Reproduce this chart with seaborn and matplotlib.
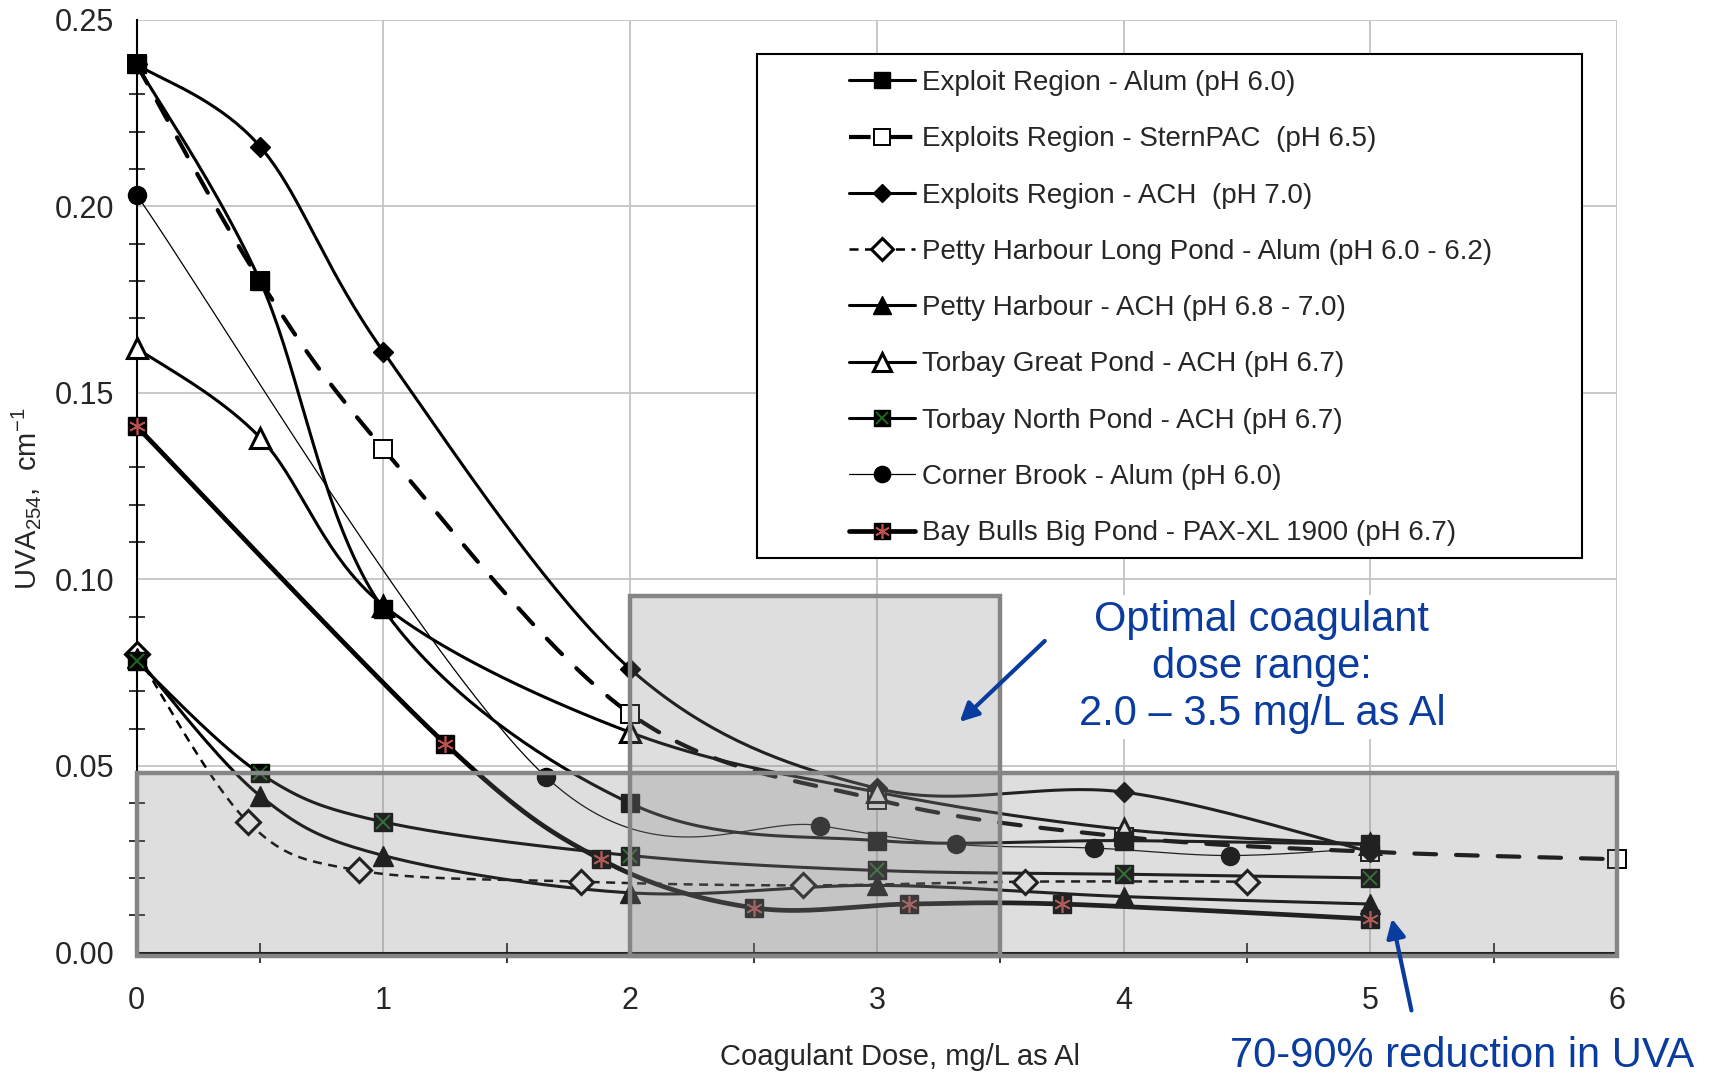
import matplotlib
matplotlib.use("Agg")
import matplotlib.pyplot as plt
from matplotlib.lines import Line2D
from matplotlib.patches import Rectangle
import numpy as np
import pandas as pd
import seaborn as sns

# values (dose in mg/L as Al, UVA254 in 1/cm)
series_names = [
    "Exploit Region - Alum (pH 6.0)",
    "Exploits Region - SternPAC  (pH 6.5)",
    "Exploits Region - ACH  (pH 7.0)",
    "Petty Harbour Long Pond - Alum (pH 6.0 - 6.2)",
    "Petty Harbour - ACH (pH 6.8 - 7.0)",
    "Torbay Great Pond - ACH (pH 6.7)",
    "Torbay North Pond - ACH (pH 6.7)",
    "Corner Brook - Alum (pH 6.0)",
    "Bay Bulls Big Pond - PAX-XL 1900 (pH 6.7)",
]

exploit_alum_x = [0, 0.5, 1, 2, 3, 4, 5]
exploit_alum_y = [0.238, 0.180, 0.092, 0.040, 0.030, 0.030, 0.029]

exploit_pac_x = [0, 0.5, 1, 2, 3, 4, 5, 6]
exploit_pac_y = [0.238, 0.180, 0.135, 0.064, 0.041, 0.031, 0.027, 0.025]

exploit_ach_x = [0, 0.5, 1, 2, 3, 4, 5]
exploit_ach_y = [0.238, 0.216, 0.161, 0.076, 0.044, 0.043, 0.027]

petty_alum_x = [0, 0.45, 0.9, 1.8, 2.7, 3.6, 4.5]
petty_alum_y = [0.080, 0.035, 0.022, 0.019, 0.018, 0.019, 0.019]

petty_ach_x = [0, 0.5, 1, 2, 3, 4, 5]
petty_ach_y = [0.079, 0.042, 0.026, 0.016, 0.018, 0.015, 0.013]

torbay_great_x = [0, 0.5, 1, 2, 3, 4, 5]
torbay_great_y = [0.162, 0.138, 0.093, 0.059, 0.043, 0.033, 0.029]

torbay_north_x = [0, 0.5, 1, 2, 3, 4, 5]
torbay_north_y = [0.078, 0.048, 0.035, 0.026, 0.022, 0.021, 0.020]

corner_x = [0, 1.66, 2.77, 3.32, 3.88, 4.43, 5]
corner_y = [0.203, 0.047, 0.034, 0.029, 0.028, 0.026, 0.028]

baybulls_x = [0, 1.25, 1.88, 2.5, 3.13, 3.75, 5]
baybulls_y = [0.141, 0.056, 0.025, 0.012, 0.013, 0.013, 0.009]

all_x = [exploit_alum_x, exploit_pac_x, exploit_ach_x, petty_alum_x, petty_ach_x,
         torbay_great_x, torbay_north_x, corner_x, baybulls_x]
all_y = [exploit_alum_y, exploit_pac_y, exploit_ach_y, petty_alum_y, petty_ach_y,
         torbay_great_y, torbay_north_y, corner_y, baybulls_y]

BLUE = "#0a3b9e"
GREEN = "#1e6b1e"
RED = "#c0504d"

# line style per series; marker entries: (marker, size, facecolor, edgecolor, mew)
styles = [
    dict(lw=2.2, ls="-", z=6, marks=[("s", 12.5, "black", "black", 1)]),
    dict(lw=3.0, ls=(0, (5.2, 4.8)), cap="round", z=4,
         marks=[("s", 12.5, "white", "black", 1.4)]),
    dict(lw=2.2, ls="-", z=4, marks=[("D", 10, "black", "black", 1)]),
    dict(lw=1.8, ls=(0, (3.6, 2.6)), z=4, marks=[("D", 12.5, "white", "black", 2.2)]),
    dict(lw=2.2, ls="-", z=4, marks=[("^", 14, "black", "black", 1)]),
    dict(lw=2.2, ls="-", z=4, marks=[("^", 14, "white", "black", 2.2)]),
    dict(lw=2.2, ls="-", z=4, marks=[("s", 12.5, "black", "black", 1), ("x", 10, GREEN, GREEN, 1.4)]),
    dict(lw=0.9, ls="-", z=4, marks=[("o", 13, "black", "black", 1)]),
    dict(lw=3.4, ls="-", z=4, marks=[("s", 12.5, "black", "black", 1), ((6, 2, 0), 12, RED, RED, 1.2)]),
]


def smooth(x, y, n=40):
    """Excel-like smoothed line (Catmull-Rom Bezier)"""
    pts = np.column_stack([x, y]).astype(float)
    p = np.vstack([pts[0], pts, pts[-1]])
    t = np.linspace(0, 1, n)[:, None]
    out = []
    for i in range(1, len(p) - 2):
        p0, p1, p2, p3 = p[i - 1], p[i], p[i + 1], p[i + 2]
        c1 = p1 + (p2 - p0) / 6
        c2 = p2 - (p3 - p1) / 6
        seg = (1 - t) ** 3 * p1 + 3 * (1 - t) ** 2 * t * c1 + 3 * (1 - t) * t ** 2 * c2 + t ** 3 * p2
        out.append(seg if i == 1 else seg[1:])
    return np.vstack(out)


rows = []
for name, xs, ys in zip(series_names, all_x, all_y):
    sm = smooth(xs, ys)
    for k, (a, b) in enumerate(sm):
        rows.append((name, k, a, b))
curves = pd.DataFrame(rows, columns=["series", "k", "dose", "uva"])

sns.set_theme(style="white")
plt.rcParams["font.family"] = ["Liberation Sans", "DejaVu Sans"]
plt.rcParams["mathtext.default"] = "regular"

fig = plt.figure(figsize=(17.15, 10.75), dpi=100)
ax = fig.add_axes([0.0797, 0.1139, 0.8633, 0.8678])

for name, st, xs, ys in zip(series_names, styles, all_x, all_y):
    d = curves[curves["series"] == name]
    sns.lineplot(data=d, x="dose", y="uva", sort=False, estimator=None, ax=ax,
                 color="black", linewidth=st["lw"], zorder=3)
    ln = ax.lines[-1]
    ln.set_linestyle(st["ls"])
    if st.get("cap"):
        ln.set_dash_capstyle("round")
    for m, ms, fc, ec, mew in st["marks"]:
        ax.plot(xs, ys, ls="none", marker=m, markersize=ms, markerfacecolor=fc,
                markeredgecolor=ec, markeredgewidth=mew, zorder=st["z"], clip_on=False)

ax.set_xlim(0, 6)
ax.set_ylim(0, 0.25)
ax.set_xticks(np.arange(0, 7, 1))
ax.set_xticks(np.arange(0, 6.01, 0.5), minor=True)
ax.set_yticks(np.arange(0, 0.251, 0.05))
ax.set_yticks(np.arange(0, 0.251, 0.01), minor=True)
ax.set_yticklabels([f"{v:.2f}" for v in np.arange(0, 0.251, 0.05)])
ax.tick_params(axis="both", which="major", labelsize=22, color="black")
ax.tick_params(axis="x", which="both", direction="inout", length=14, width=1.3, pad=17)
ax.tick_params(axis="y", which="major", direction="out", length=8, width=1.3, pad=8)
ax.tick_params(axis="y", which="minor", direction="inout", length=11, width=1.3, left=True)
ax.tick_params(axis="x", which="minor", bottom=True)
ax.grid(True, which="major", color="#c4c4c4", linewidth=1.3, zorder=0)
ax.set_axisbelow(True)
for s in ["top", "right"]:
    ax.spines[s].set_visible(False)
for s in ["left", "bottom"]:
    ax.spines[s].set_color("black")
    ax.spines[s].set_linewidth(1.5)

ax.set_xlabel("Coagulant Dose, mg/L as Al", fontsize=21)
ax.xaxis.set_label_coords(0.5155, -0.097)
ax.set_ylabel("UVA$_{254}$,  cm$^{-1}$", fontsize=21)
ax.yaxis.set_label_coords(-0.0635, 0.487)

# shaded boxes drawn over the data like in the original
ax.add_patch(Rectangle((0, -0.001), 6, 0.049, facecolor="#808080", alpha=0.26,
                       edgecolor="none", zorder=7, clip_on=False))
ax.add_patch(Rectangle((2, -0.001), 1.5, 0.0965, facecolor="#808080", alpha=0.26,
                       edgecolor="none", zorder=7, clip_on=False))
ax.add_patch(Rectangle((0, -0.001), 6, 0.049, facecolor="none", edgecolor="#858585",
                       linewidth=3.2, zorder=7, clip_on=False))
ax.add_patch(Rectangle((2, -0.001), 1.5, 0.0965, facecolor="none", edgecolor="#858585",
                       linewidth=3.2, zorder=7, clip_on=False))

# legend with its own frame
ax.add_patch(Rectangle((0.419, 0.423), 0.557, 0.5406, transform=ax.transAxes,
                       facecolor="white", edgecolor="black", linewidth=1.5, zorder=8))
handles = []
for st in styles:
    parts = []
    for j, (m, ms, fc, ec, mew) in enumerate(st["marks"]):
        h = Line2D([], [], color="black", linewidth=st["lw"] if j == 0 else 0,
                   linestyle=st["ls"] if j == 0 else "none", marker=m, markersize=ms * 0.9,
                   markerfacecolor=fc, markeredgecolor=ec, markeredgewidth=mew)
        parts.append(h)
    handles.append(tuple(parts) if len(parts) > 1 else parts[0])
leg = ax.legend(handles, series_names, loc="upper left", bbox_to_anchor=(0.481, 0.946),
                frameon=False, fontsize=20, handlelength=2.37, handletextpad=0.28,
                labelspacing=1.09, borderpad=0, borderaxespad=0)
leg.set_zorder(9)

ax.text(4.56, 0.0765, "Optimal coagulant\ndose range:\n2.0 \u2013 3.5 mg/L as Al",
        ha="center", va="center", fontsize=30, color=BLUE, linespacing=1.22,
        bbox=dict(facecolor="white", edgecolor="none", pad=4), zorder=8)
ax.annotate("", xy=(3.335, 0.0618), xytext=(3.68, 0.0835),
            arrowprops=dict(arrowstyle="-|>", color=BLUE, lw=3, mutation_scale=28,
                            shrinkA=0, shrinkB=0),
            zorder=9)
ax.annotate("", xy=(5.087, 0.0091), xytext=(5.166, -0.0155),
            arrowprops=dict(arrowstyle="-|>", color=BLUE, lw=3, mutation_scale=28,
                            shrinkA=0, shrinkB=0),
            annotation_clip=False, zorder=9)
ax.text(5.37, -0.0278, "70-90% reduction in UVA", ha="center", va="center",
        fontsize=30, color=BLUE, clip_on=False)

fig.savefig("out.png", dpi=100)
